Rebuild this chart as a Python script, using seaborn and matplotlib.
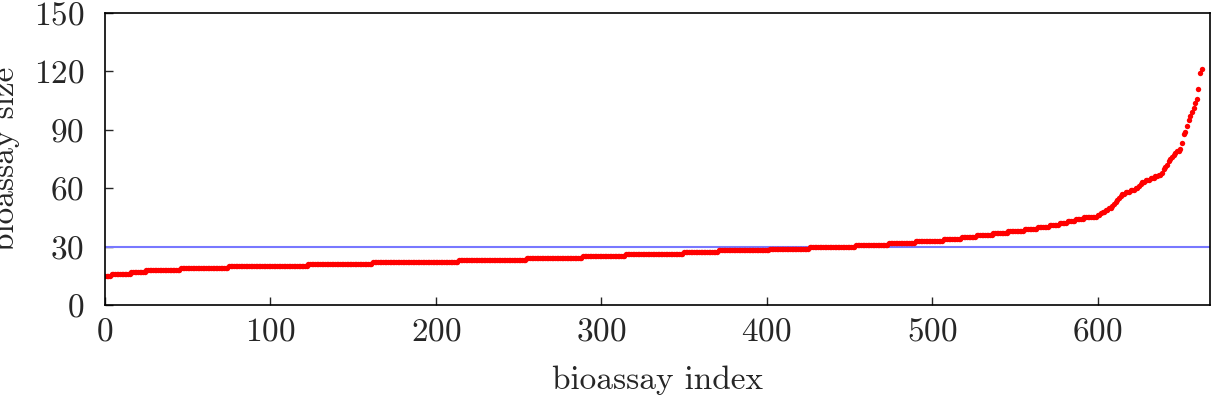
import numpy as np
import pandas as pd
import matplotlib
matplotlib.use("Agg")
import matplotlib.pyplot as plt
import seaborn as sns

# plateau kısmı: boyut değerleri ve kaç kez tekrar ettikleri (sıralı)
sizes = [15, 16, 17, 18, 19, 20, 21, 22, 23, 24, 25, 26, 27, 28, 29, 30,
         31, 32, 33, 34, 35, 36, 37, 38, 39, 40, 41, 42, 43, 44, 45]
counts = [4, 12, 9, 21, 29, 48, 39, 52, 41, 34, 26, 35, 21, 31, 24, 28,
          20, 16, 17, 11, 9, 10, 9, 10, 8, 7, 6, 5, 5, 5, 8]
# son kısım: hızla artan değerler
tail = [46, 46, 47, 48, 48, 49, 49, 50, 50, 51, 52, 53, 54, 55, 56, 57,
        57, 58, 58, 58, 59, 59, 59, 60, 60, 61, 62, 63, 63, 64, 64, 64,
        65, 65, 65, 66, 66, 67, 67, 68, 70, 71, 72, 74, 75, 76, 77, 78,
        79, 79, 80, 83, 88, 89, 92, 95, 97, 99, 101, 104, 106, 111, 119, 121]
threshold = 30

xticks = [0, 100, 200, 300, 400, 500, 600]
yticks = [0, 30, 60, 90, 120, 150]

bio_size = np.concatenate([np.repeat(sizes, counts), tail])
df = pd.DataFrame({"index": np.arange(len(bio_size)), "size": bio_size})

sns.set_style("ticks")
plt.rcParams["font.family"] = ["cmr10", "DejaVu Serif"]
plt.rcParams["axes.formatter.use_mathtext"] = True
plt.rcParams["mathtext.fontset"] = "cm"

fig = plt.figure(figsize=(12.25, 4.05), dpi=100)
ax = fig.add_axes([0.0857, 0.247, 0.9021, 0.721])

ax.axhline(threshold, color="#7878ff", lw=1.5, zorder=1)
sns.scatterplot(data=df, x="index", y="size", color="red", s=15,
                linewidth=0, edgecolor=None, ax=ax, zorder=2)

ax.set_xlim(0, 668)
ax.set_ylim(0, 150)
ax.set_xticks(xticks)
ax.set_yticks(yticks)
ax.tick_params(direction="in", length=6, width=1, labelsize=24,
               top=False, right=False)
ax.tick_params(axis="x", pad=9)
ax.tick_params(axis="y", pad=15)
for sp in ax.spines.values():
    sp.set_color("black")
    sp.set_linewidth(1.2)

ax.set_xlabel("bioassay index", fontsize=24, labelpad=14)
ax.set_ylabel("bioassay size", fontsize=24)
ax.yaxis.set_label_coords(-0.077, 0.5)

fig.savefig("out.png", dpi=100)
